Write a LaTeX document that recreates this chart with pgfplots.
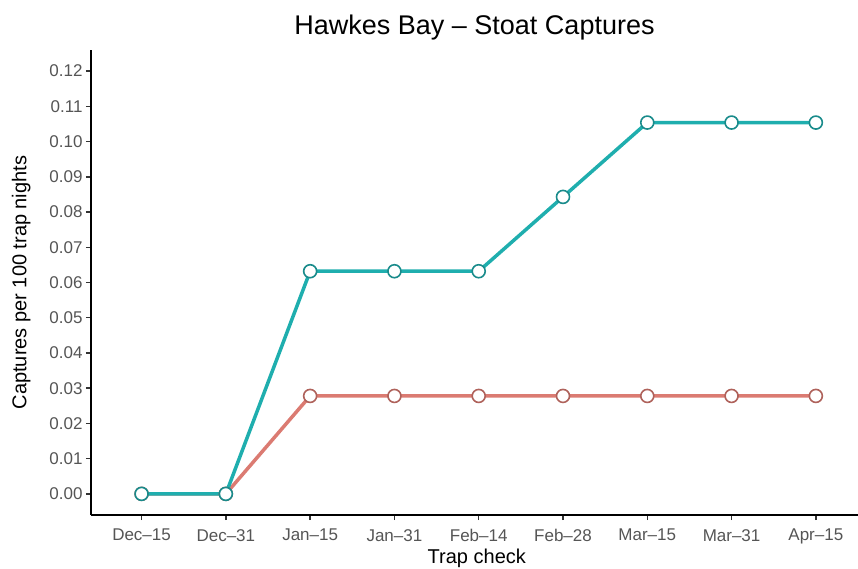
\documentclass[border=0pt]{standalone}
\usepackage{fontspec}
\setmainfont{Liberation Sans}
\usepackage{pgfplots}
\pgfplotsset{compat=1.18}
\definecolor{tealc}{HTML}{1FAEAE}
\definecolor{redc}{HTML}{DB7B72}
\definecolor{ticktext}{HTML}{555555}
\begin{document}
\begin{tikzpicture}
\begin{axis}[
  scale only axis,
  width=767pt, height=465pt,
  xmin=-0.6, xmax=8.5,
  ymin=-0.006, ymax=0.126,
  axis x line*=bottom, axis y line*=left,
  axis line style={black, line width=2pt},
  xtick={0,...,8},
  xticklabels={Dec--15,Dec--31,Jan--15,Jan--31,Feb--14,Feb--28,Mar--15,Mar--31,Apr--15},
  ytick={0,0.01,...,0.125},
  yticklabel style={/pgf/number format/fixed,/pgf/number format/fixed zerofill,/pgf/number format/precision=2},
  xticklabel style={yshift=-9pt, inner sep=0pt},
  /pgf/number format/assume math mode=true,
  tick align=outside,
  major tick length=5pt,
  tick style={black!80, line width=1.5pt},
  ticklabel style={font=\fontsize{17}{20}\selectfont, text=ticktext},
  xlabel={Trap check},
  ylabel={Captures per 100 trap nights},
  label style={font=\fontsize{20}{24}\selectfont},
  xlabel style={at={(axis description cs:0.503,-0.0731)}, anchor=north, inner sep=0pt},
  ylabel style={yshift=12pt},
  title={Hawkes Bay -- Stoat Captures},
  title style={font=\fontsize{27}{31}\selectfont, yshift=0pt},
  clip=false,
]
\addplot[redc, line width=3.5pt, mark=*, mark size=6.5pt, mark options={fill=white, draw=redc!80!black, line width=1.6pt}]
  coordinates {(0,0) (1,0) (2,0.0278) (3,0.0278) (4,0.0278) (5,0.0278) (6,0.0278) (7,0.0278) (8,0.0278)};
\addplot[tealc, line width=3.5pt, mark=*, mark size=6.5pt, mark options={fill=white, draw=tealc!80!black, line width=1.6pt}]
  coordinates {(0,0) (1,0) (2,0.0632) (3,0.0632) (4,0.0632) (5,0.0843) (6,0.1054) (7,0.1054) (8,0.1054)};
\end{axis}
\pgfresetboundingbox
\path[use as bounding box] (-91pt,-53pt) rectangle (767pt,515pt);
\end{tikzpicture}
\end{document}
